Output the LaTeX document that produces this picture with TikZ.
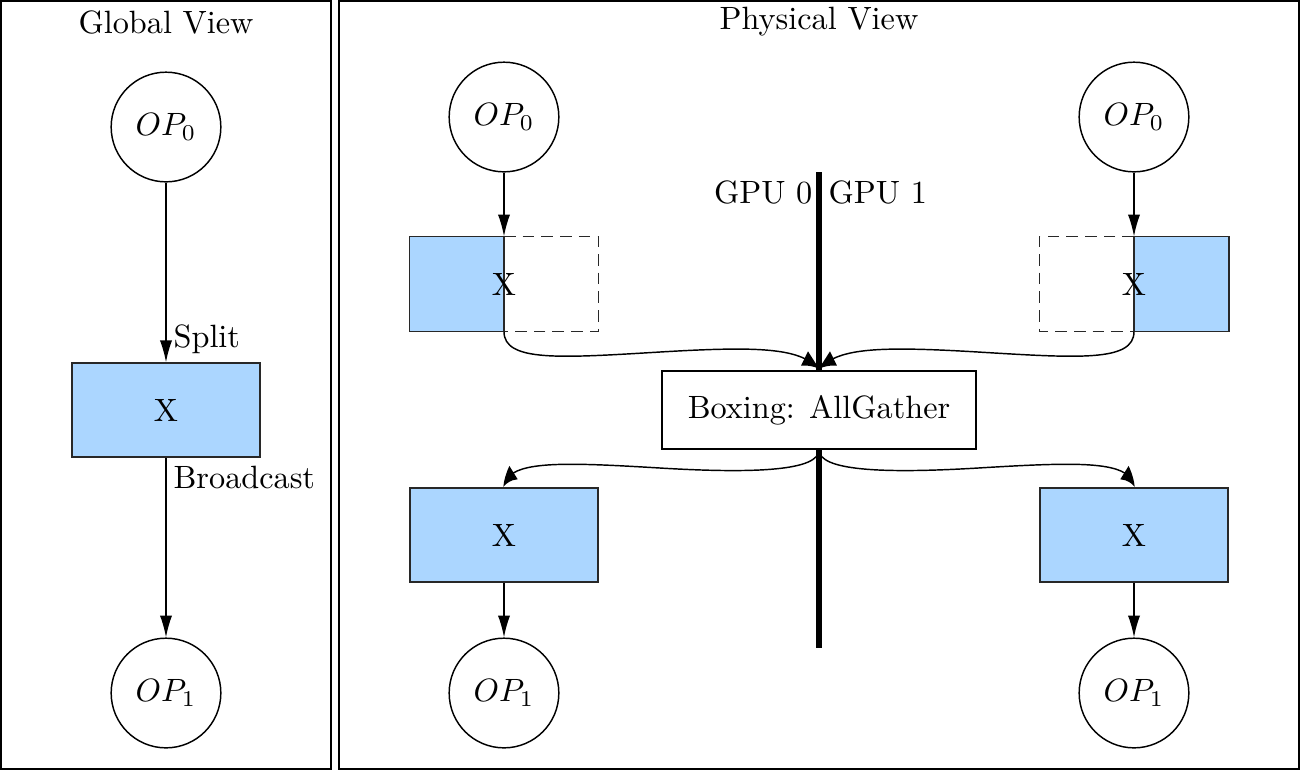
\documentclass[tikz,border=0pt]{standalone}
\usetikzlibrary{arrows.meta,bending}
\definecolor{xblue}{RGB}{171,214,255}
\definecolor{edgegray}{RGB}{40,40,40}
\begin{document}
\begin{tikzpicture}[x=0.31pt,y=-0.31pt,
  panel/.style={draw,line width=0.5pt,inner sep=0pt},
  opnode/.style={draw,circle,minimum size=34pt,inner sep=0pt,line width=0.45pt},
  xbox/.style={draw=edgegray,fill=xblue,minimum width=58.3pt,minimum height=29.1pt,inner sep=0pt,line width=0.5pt},
  halfbox/.style={minimum width=58.3pt,minimum height=29.1pt,inner sep=0pt},
  dashedge/.style={draw=edgegray,line width=0.5pt,dash pattern=on 3.6pt off 2.2pt},
  conn/.style={line width=0.45pt,-{Latex[length=6.8pt,width=3.8pt]}},
  curv/.style={line width=0.45pt,-{Latex[length=5.5pt,width=5pt,bend]}},
  lbl/.style={inner sep=0pt,font=\normalsize}
]
\useasboundingbox (0,0) rectangle (1301,771);
% panels
\node[panel,minimum width=102.3pt,minimum height=238.1pt] (gpanel) at (166,385) {};
\node[panel,minimum width=297.6pt,minimum height=238.1pt] (ppanel) at (819,385) {};
\node[lbl] (gtitle) at (166,22) {Global View};
\node[lbl] (ptitle) at (819,22) {Physical View};

% global view
\node[opnode] (gop0) at (166,127) {$OP_0$};
\node[xbox] (gx) at (166,410) {X};
\node[opnode] (gop1) at (166,693) {$OP_1$};
\draw[conn] (gop0) -- (gx);
\draw[conn] (gx) -- (gop1);
\node[lbl,anchor=west] (split) at (173,339) {Split};
\node[lbl,anchor=west] (bcast) at (173,477) {Broadcast};

% physical view: GPU line
\coordinate (gtop) at (819,172);
\coordinate (gbot) at (819,648);
\draw[line width=1.6pt] (gtop) -- (gbot);
\node[lbl,anchor=east] (gpu0) at (813,192) {GPU 0};
\node[lbl,anchor=west] (gpu1) at (828,192) {GPU 1};

\node[opnode] (pop0a) at (504,117) {$OP_0$};
\node[opnode] (pop0b) at (1134,117) {$OP_0$};

\node[halfbox] (xa) at (504,284) {};
\node[halfbox] (xb) at (1134,284) {};
\fill[xblue] (xa.north west) rectangle (xa.south);
\draw[edgegray,line width=0.5pt] (xa.north) -- (xa.north west) -- (xa.south west) -- (xa.south) -- cycle;
\draw[dashedge] (xa.north) -- (xa.north east) -- (xa.south east) -- (xa.south);
\fill[xblue] (xb.north) rectangle (xb.south east);
\draw[edgegray,line width=0.5pt] (xb.north) -- (xb.north east) -- (xb.south east) -- (xb.south) -- cycle;
\draw[dashedge] (xb.north) -- (xb.north west) -- (xb.south west) -- (xb.south);
\node[lbl] (xatxt) at (xa) {X};
\node[lbl] (xbtxt) at (xb) {X};
\draw[conn] (pop0a) -- (xa.north);
\draw[conn] (pop0b) -- (xb.north);

\node[draw,fill=white,minimum width=97.3pt,minimum height=24.2pt,inner sep=0pt,line width=0.45pt] (boxing) at (819,410) {Boxing: AllGather};

\coordinate (bin) at (819,369);
\draw[curv] (xa.south) .. controls (504,362) and (560,358) .. (660,352) .. controls (760,346) and (800,348) .. (bin);
\draw[curv] (xb.south) .. controls (1134,362) and (1078,358) .. (978,352) .. controls (878,346) and (838,348) .. (bin);

\node[xbox] (xc) at (504,535) {X};
\node[xbox] (xd) at (1134,535) {X};
\draw[curv] (boxing.south) .. controls (819,470) and (760,474) .. (660,468) .. controls (560,462) and (506,460) .. (xc.north);
\draw[curv] (boxing.south) .. controls (819,470) and (878,474) .. (978,468) .. controls (1078,462) and (1132,460) .. (xd.north);

\node[opnode] (pop1a) at (504,693) {$OP_1$};
\node[opnode] (pop1b) at (1134,693) {$OP_1$};
\draw[conn] (xc) -- (pop1a);
\draw[conn] (xd) -- (pop1b);
\end{tikzpicture}
\end{document}
